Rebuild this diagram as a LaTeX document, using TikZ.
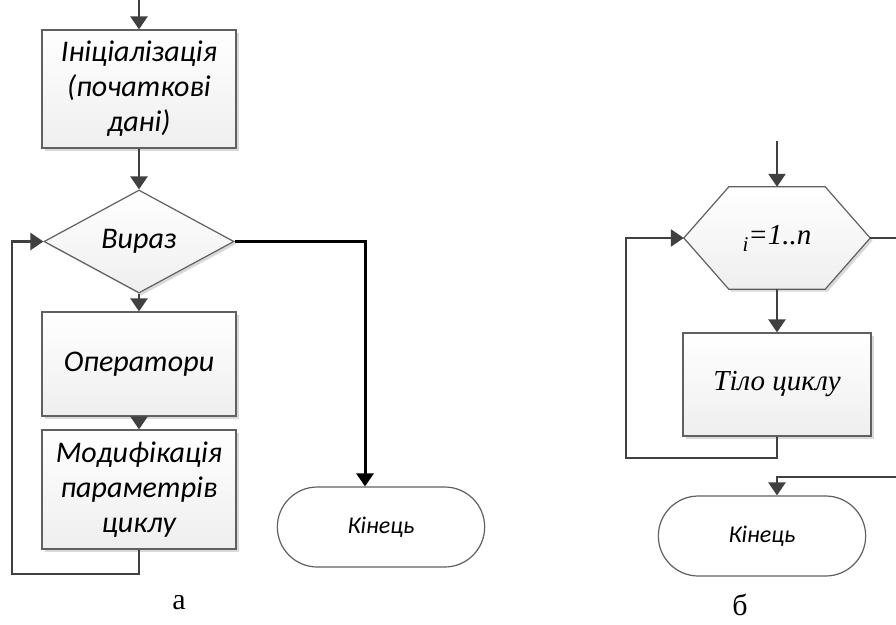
\documentclass[tikz,border=0pt]{standalone}
\usepackage{fontspec}
\setmainfont{Carlito}
\newfontfamily\tnr{Liberation Serif}
\usetikzlibrary{arrows.meta, shapes.geometric, shapes.misc, shadows, backgrounds, positioning}

\tikzset{
  block/.style={draw=gray!75!black, line width=1.2pt, top color=white, bottom color=gray!13,
    drop shadow={shadow xshift=2.5pt, shadow yshift=-2.5pt, fill=gray, opacity=.3},
    inner sep=0pt, align=center, font=\fontsize{30}{35}\selectfont\itshape},
  term/.style={rounded rectangle, draw=gray!75!black, line width=1.2pt, fill=white,
    minimum width=214pt, minimum height=80pt, font=\fontsize{24}{30}\selectfont\itshape},
  line/.style={draw=black!75, line width=2.5pt, -{Triangle[width=17pt,length=13pt]}},
  exit/.style={line, draw=black, line width=3pt},
  caption/.style={font=\tnr\fontsize{30}{30}\selectfont},
}

\begin{document}
\begin{tikzpicture}[x=1pt, y=-1pt]
  \useasboundingbox (0,0) rectangle (896,624);

  % (a) loop with condition
  \coordinate (inA) at (139,0);
  \node[block, minimum width=194pt, minimum height=118pt] (init) at (139,89)
    {Ініціалізація\\(початкові\\дані)};
  \node[block, diamond, minimum width=190pt, minimum height=103pt] (cond) at (139,241.5) {Вираз};
  \node[block, minimum width=194pt, minimum height=104pt] (ops) at (139,364) {Оператори};
  \node[block, minimum width=194pt, minimum height=119pt] (mod) at (139,489.5)
    {Модифікація\\параметрів\\циклу};
  \node[term] (endA) at (381,527) {Кінець};
  \coordinate (la) at (12,574);

  \draw
  (inA) edge[line] (init)
  (init) edge[line] (cond)
  (cond) edge[line] (ops)
  (ops) edge[line] (mod);
  \draw[line] (mod.south) |- (la) |- (cond.west);
  \draw[exit] (cond.east) -| ([xshift=-16pt]endA.north);
  \node[caption] (capA) at (179,603) {а};

  % (b) loop with counter
  \coordinate (inB) at (777,141);
  \node[inner sep=0pt, minimum width=186pt, minimum height=102pt,
    font=\tnr\itshape\fontsize{29}{34}\selectfont] (hex) at (777,238)
    {\raisebox{-7pt}{\fontsize{21}{21}\selectfont i}=1..n};
  \begin{scope}[on background layer]
    \path[block] (hex.west) -- ([xshift=45pt]hex.north west) -- ([xshift=-45pt]hex.north east)
      -- (hex.east) -- ([xshift=-45pt]hex.south east) -- ([xshift=45pt]hex.south west) -- cycle;
  \end{scope}
  \node[block, minimum width=188pt, minimum height=103pt,
    font=\tnr\itshape\fontsize{29}{34}\selectfont] (body) at (777,384.5) {Тіло циклу};
  \node[term] (endB) at (762,536) {Кінець};
  \coordinate (lb) at (626,458);
  \coordinate (rb) at (905,477);

  \draw
  (inB) edge[line] (hex)
  (hex) edge[line] (body);
  \draw[line] (body.south) |- (lb) |- (hex.west);
  \draw[line] (hex.east) -| (rb) -| ([xshift=15pt]endB.north);
  \node[caption] (capB) at (740,605) {б};
\end{tikzpicture}
\end{document}
